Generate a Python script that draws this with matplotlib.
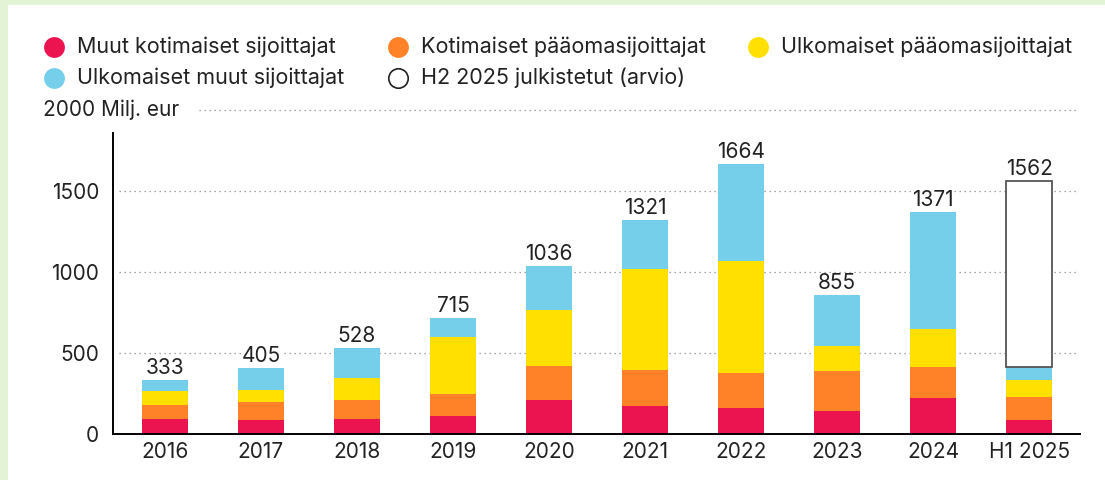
import matplotlib
matplotlib.use("Agg")
import matplotlib.pyplot as plt
from matplotlib.lines import Line2D
from matplotlib.patches import Rectangle
import numpy as np

# ---- data ----
categories = ['2016', '2017', '2018', '2019', '2020', '2021', '2022', '2023', '2024', 'H1 2025']
muut_kotimaiset = [95, 88, 95, 112, 210, 173, 160, 142, 222, 86]
kotimaiset_paaoma = [87, 112, 112, 136, 210, 222, 216, 247, 192, 142]
ulkomaiset_paaoma = [82, 74, 136, 350, 345, 623, 692, 154, 234, 105]
ulkomaiset_muut = [69, 131, 185, 117, 271, 303, 596, 312, 723, 81]
h2_arvio = [0, 0, 0, 0, 0, 0, 0, 0, 0, 1148]
series_names = ['Muut kotimaiset sijoittajat', 'Kotimaiset pääomasijoittajat',
                'Ulkomaiset pääomasijoittajat', 'Ulkomaiset muut sijoittajat',
                'H2 2025 julkistetut (arvio)']
yticks = [0, 500, 1000, 1500]
unit_label = '2000 Milj. eur'

colors = ['#EB1450', '#FF8228', '#FFE000', '#76CFEA']
TEXT = '#222222'
FONT = 'Inter'
FS = 15
LFS = 15.5

plt.rcParams['font.family'] = [FONT, 'DejaVu Sans']

fig = plt.figure(figsize=(11.05, 4.8), dpi=100)
fig.patch.set_facecolor('#E2F4D5')
fig.patches.append(Rectangle((8 / 1105, 0), 1, 1 - 5 / 480, transform=fig.transFigure,
                             facecolor='white', edgecolor='none', zorder=-10))

ax = fig.add_axes([113 / 1105, 46 / 480, 967 / 1105, 324 / 480])
ax.set_facecolor('none')

x = np.arange(len(categories))
w = 0.48
bottom = np.zeros(len(categories))
for vals, c in zip([muut_kotimaiset, kotimaiset_paaoma, ulkomaiset_paaoma, ulkomaiset_muut], colors):
    ax.bar(x, vals, w, bottom=bottom, color=c, edgecolor='none', zorder=3)
    bottom += np.array(vals)
h2 = np.array(h2_arvio)
mask = h2 > 0
ax.bar(x[mask], h2[mask], w, bottom=bottom[mask], facecolor='white',
       edgecolor='#555555', linewidth=1.3, zorder=3)
totals = bottom + h2
for xi, t in zip(x, totals):
    ax.annotate(f'{int(t)}', (xi, t), xytext=(0, 1.5), textcoords='offset points',
                ha='center', va='bottom', fontsize=FS, color=TEXT, zorder=5,
                bbox=dict(facecolor='white', edgecolor='none', pad=0))

ax.set_xlim(-0.54, 9.53)
ax.set_ylim(0, 2000)
ax.set_xticks(x)
ax.set_xticklabels(categories, fontsize=FS, color=TEXT)
ax.set_yticks(yticks)
ax.set_yticklabels([str(v) for v in yticks], fontsize=FS, color=TEXT)
ax.tick_params(length=0)
ax.tick_params(axis='y', pad=10)
ax.tick_params(axis='x', pad=6)

for s in ['top', 'right']:
    ax.spines[s].set_visible(False)
ax.spines['left'].set_bounds(0, 1858)
ax.spines['left'].set_linewidth(1.4)
ax.spines['bottom'].set_linewidth(1.4)
ax.spines['left'].set_zorder(4)
ax.spines['bottom'].set_zorder(4)

ytr = ax.get_yaxis_transform()
for v in yticks[1:]:
    ax.plot([0.006, 0.998], [v, v], transform=ytr, color='#8a8a8a', lw=0.9,
            ls=(0, (1, 3)), zorder=1, clip_on=False)
ax.plot([0.089, 0.998], [2000, 2000], transform=ytr, color='#8a8a8a', lw=0.9,
        ls=(0, (1, 3)), zorder=1, clip_on=False)
ax.text(-0.072, 2000, unit_label, transform=ytr, ha='left', va='center',
        fontsize=FS, color=TEXT)

# legend (manual)
W, H = 1105, 480
leg = [(54, 47, colors[0], series_names[0]),
       (398, 47, colors[1], series_names[1]),
       (758, 47, colors[2], series_names[2]),
       (54, 78, colors[3], series_names[3]),
       (398, 78, 'white', series_names[4])]
for px, py, c, name in leg:
    ec = '#222222' if c == 'white' else c
    fig.add_artist(Line2D([px / W], [1 - py / H], transform=fig.transFigure, marker='o',
                          markersize=15 if c != 'white' else 14, markerfacecolor=c,
                          markeredgecolor=ec, markeredgewidth=1.2 if c == 'white' else 0,
                          linestyle='none'))
    fig.text((px + 23) / W, 1 - py / H, name, ha='left', va='center', fontsize=LFS, color=TEXT)

fig.savefig('out.png', dpi=100, facecolor=fig.get_facecolor())
